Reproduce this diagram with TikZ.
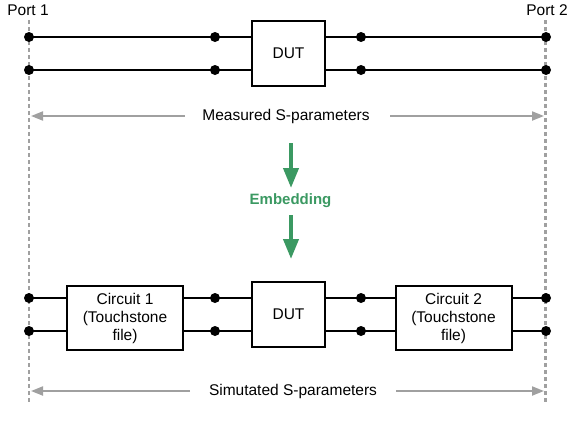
\documentclass[tikz,border=0pt]{standalone}
\usepackage{fontspec}
\setmainfont{Liberation Sans}
\usetikzlibrary{arrows.meta}
\definecolor{embgreen}{RGB}{59,153,98}
\definecolor{dimgray}{RGB}{160,160,160}
\begin{document}
\begin{tikzpicture}[x=1pt,y=-1pt,
  every node/.style={font=\fontsize{15.5}{18}\selectfont},
  box/.style={draw,line width=2pt,minimum width=73pt,minimum height=65pt,inner sep=0pt,align=center},
  cbox/.style={draw,line width=2pt,minimum width=116pt,minimum height=64pt,inner sep=0pt,align=center},
  dot/.style={circle,fill=black,inner sep=0pt,minimum size=10pt},
  wire/.style={line width=1.1pt},
  portline/.style={dimgray,line width=2.2pt,dash pattern=on 4pt off 3pt},
  grayarrow/.style={dimgray,line width=2pt,-{Triangle[length=12pt,width=9pt]}},
  greenarrow/.style={embgreen,line width=4pt,-{Triangle[length=20pt,width=15pt]}},
  lbl/.style={inner sep=0pt}]
\useasboundingbox (0,0) rectangle (577,426);
% port lines
\node[lbl] (p1) at (28,10) {Port 1};
\node[lbl] (p2) at (547,10) {Port 2};
\coordinate (p1t) at (29,20);
\coordinate (p1b) at (29,403);
\coordinate (p2t) at (545.5,20);
\coordinate (p2b) at (545.5,403);
\draw[portline] (p1t) -- (p1b);
\draw[portline] (p2t) -- (p2b);
% top row
\node[box] (dut1) at (288.5,53.5) {DUT};
\node[dot] (a1) at (29,37) {};
\node[dot] (a2) at (29,70) {};
\node[dot] (b1) at (215,37) {};
\node[dot] (b2) at (215,70) {};
\node[dot] (c1) at (361,37) {};
\node[dot] (c2) at (361,70) {};
\node[dot] (e1) at (546,37) {};
\node[dot] (e2) at (546,70) {};
\coordinate (dut1w1) at (252,37);
\coordinate (dut1w2) at (252,70);
\coordinate (dut1e1) at (325,37);
\coordinate (dut1e2) at (325,70);
\draw[wire] (a1.center) -- (dut1w1);
\draw[wire] (a2.center) -- (dut1w2);
\draw[wire] (dut1e1) -- (e1.center);
\draw[wire] (dut1e2) -- (e2.center);
% measured
\node[lbl] (meas) at (286,116) {Measured S-parameters};
\coordinate (mL) at (185,116);
\coordinate (mLt) at (31,116);
\coordinate (mR) at (390,116);
\coordinate (mRt) at (544,116);
\draw[grayarrow] (mL) -- (mLt);
\draw[grayarrow] (mR) -- (mRt);
% embedding
\node[lbl,font=\fontsize{15}{18}\selectfont\bfseries,text=embgreen] (emb) at (290.5,201) {Embedding};
\coordinate (g1s) at (291,143);
\coordinate (g1e) at (291,188);
\coordinate (g2s) at (291,215);
\coordinate (g2e) at (291,259);
\draw[greenarrow] (g1s) -- (g1e);
\draw[greenarrow] (g2s) -- (g2e);
% bottom row
\node[box] (dut2) at (288.5,314.5) {DUT};
\node[cbox] (cir1) at (125,318) {Circuit 1\\(Touchstone\\file)};
\node[cbox] (cir2) at (453.5,318) {Circuit 2\\(Touchstone\\file)};
\node[dot] (f1) at (29,298) {};
\node[dot] (f2) at (29,331) {};
\node[dot] (h1) at (215,298) {};
\node[dot] (h2) at (215,331) {};
\node[dot] (k1) at (361,298) {};
\node[dot] (k2) at (361,331) {};
\node[dot] (m1) at (546,298) {};
\node[dot] (m2) at (546,331) {};
\draw[wire] (f1.center) -- (cir1.west|-f1);
\draw[wire] (f2.center) -- (cir1.west|-f2);
\draw[wire] (cir1.east|-h1) -- (dut2.west|-h1);
\draw[wire] (cir1.east|-h2) -- (dut2.west|-h2);
\draw[wire] (dut2.east|-k1) -- (cir2.west|-k1);
\draw[wire] (dut2.east|-k2) -- (cir2.west|-k2);
\draw[wire] (cir2.east|-m1) -- (m1.center);
\draw[wire] (cir2.east|-m2) -- (m2.center);
% simulated
\node[lbl] (sim) at (293,391) {Simutated S-parameters};
\coordinate (sL) at (190,391);
\coordinate (sLt) at (31,391);
\coordinate (sR) at (396,391);
\coordinate (sRt) at (544,391);
\draw[grayarrow] (sL) -- (sLt);
\draw[grayarrow] (sR) -- (sRt);
\end{tikzpicture}
\end{document}
